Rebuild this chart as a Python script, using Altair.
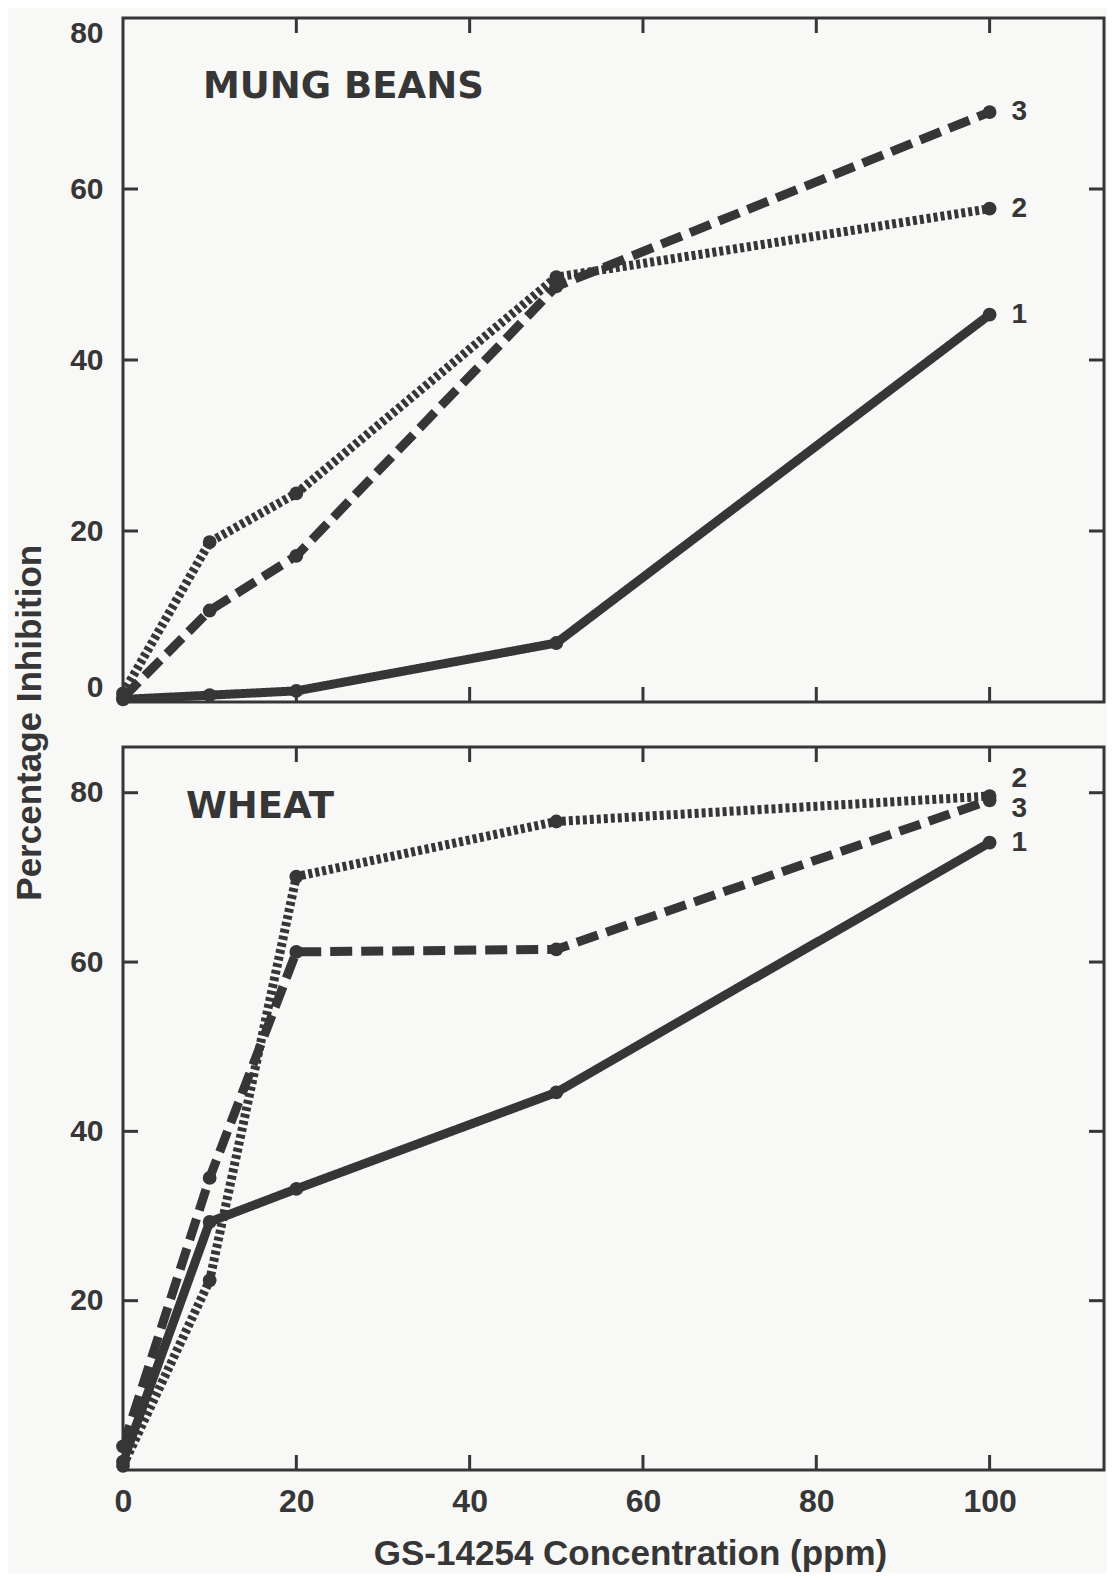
import altair as alt
import pandas as pd

# ---------------- data ----------------
ppm = [0, 10, 20, 50, 100]
series_names = ["1", "2", "3"]

mung_1 = [0.3, 0.8, 1.3, 6.9, 45.3]
mung_2 = [1.0, 18.7, 24.4, 49.7, 57.7]
mung_3 = [0.5, 10.7, 17.1, 48.6, 69.0]

wheat_1 = [1.0, 29.3, 33.2, 44.6, 74.1]
wheat_2 = [0.5, 22.4, 70.1, 76.6, 79.6]
wheat_3 = [2.8, 34.5, 61.2, 61.5, 79.1]

panel_titles = ["MUNG BEANS", "WHEAT"]
x_tick_labels = [0, 20, 40, 60, 80, 100]
x_inner_ticks = [20, 40, 60, 80, 100]
mung_y_ticks = [0, 20, 40, 60, 80]
mung_inner_y_ticks = [20, 40, 60]
wheat_y_ticks = [20, 40, 60, 80]

x_title = "GS-14254 Concentration (ppm)"
y_title = "Percentage Inhibition"

# ---------------- styling ----------------
INK = "#363636"
BG = "#f8f8f6"
W = 981
H_TOP = 684
H_BOT = 723
TL = 15  # inward tick length
NUM_FONT = "Liberation Sans, Arial, sans-serif"
TITLE_FONT = "DejaVu Sans, sans-serif"

x_scale = alt.Scale(domain=[0, 113.2], nice=False, zero=False)


def long_df(values_by_series):
    rows = []
    for name, vals in zip(series_names, values_by_series):
        for xv, yv in zip(ppm, vals):
            rows.append({"ppm": xv, "value": yv, "series": name})
    return pd.DataFrame(rows)


def panel(values_by_series, y_domain, inner_y_ticks, H, title_text,
          title_pos, label_dy, x_axis, y_axis):
    df = long_df(values_by_series)
    y_scale = alt.Scale(domain=y_domain, nice=False, zero=False)
    base = alt.Chart(df)
    lines = base.mark_line(strokeWidth=9, color=INK, strokeCap="butt",
                           strokeJoin="round", clip=True).encode(
        x=alt.X("ppm:Q", scale=x_scale, axis=x_axis),
        y=alt.Y("value:Q", scale=y_scale, axis=y_axis),
        strokeDash=alt.StrokeDash(
            "series:N",
            scale=alt.Scale(domain=series_names,
                            range=[[1, 0], [4, 3], [22, 9]]),
            legend=None),
        detail="series:N",
    )
    points = base.mark_circle(size=190, color=INK, opacity=1).encode(
        x=alt.X("ppm:Q", scale=x_scale),
        y=alt.Y("value:Q", scale=y_scale),
    )
    layers = [lines, points]
    for name in series_names:
        lab = base.transform_filter(
            (alt.datum.series == name) & (alt.datum.ppm == max(ppm))
        ).mark_text(align="left", baseline="middle", dx=22,
                    dy=label_dy.get(name, 0), font=NUM_FONT,
                    fontWeight="bold", fontSize=28, color=INK).encode(
            x=alt.X("ppm:Q", scale=x_scale),
            y=alt.Y("value:Q", scale=y_scale),
            text="series:N",
        )
        layers.append(lab)

    xt = alt.Chart(pd.DataFrame({"t": x_inner_ticks}))
    yt = alt.Chart(pd.DataFrame({"t": inner_y_ticks}))
    rule_kw = dict(color=INK, strokeWidth=3)
    layers += [
        xt.mark_rule(**rule_kw).encode(
            x=alt.X("t:Q", scale=x_scale),
            y=alt.value(0), y2=alt.value(TL)),
        xt.mark_rule(**rule_kw).encode(
            x=alt.X("t:Q", scale=x_scale),
            y=alt.value(H), y2=alt.value(H - TL)),
        yt.mark_rule(**rule_kw).encode(
            y=alt.Y("t:Q", scale=y_scale),
            x=alt.value(0), x2=alt.value(TL)),
        yt.mark_rule(**rule_kw).encode(
            y=alt.Y("t:Q", scale=y_scale),
            x=alt.value(W), x2=alt.value(W - TL)),
    ]
    ttl = alt.Chart(pd.DataFrame({"t": [title_text]})).mark_text(
        align="left", baseline="middle", font=TITLE_FONT, fontWeight="bold",
        fontSize=37, color=INK).encode(
        text="t:N", x=alt.value(title_pos[0]), y=alt.value(title_pos[1]))
    layers.append(ttl)
    return alt.layer(*layers).properties(width=W, height=H)


top_y_axis = alt.Axis(values=mung_y_ticks, title=None, labelFlush=True)
top = panel([mung_1, mung_2, mung_3], [0, 80], mung_inner_y_ticks, H_TOP,
            panel_titles[0], (80, 69), {}, None, top_y_axis)

bot_x_axis = alt.Axis(values=x_tick_labels, title=x_title, titleX=507,
                      titleY=83, titleBaseline="middle", titleAlign="center",
                      labelPadding=16, labelFontSize=32, labelFlush=False)
bot_y_axis = alt.Axis(values=wheat_y_ticks, title=None)
bottom = panel([wheat_1, wheat_2, wheat_3], [0, 85.4], wheat_y_ticks, H_BOT,
               panel_titles[1], (63, 60), {"2": -17, "3": 9, "1": 0},
               bot_x_axis, bot_y_axis)

chart = alt.vconcat(top, bottom, spacing=36).properties(
    background=BG,
    padding={"left": 5, "top": 7, "right": 0, "bottom": 0},
    title=alt.TitleParams(
        text=y_title, orient="left", anchor="middle", font=NUM_FONT,
        fontWeight="bold", fontSize=35, color=INK, offset=20, dx=71),
).configure_view(
    stroke=INK, strokeWidth=3
).configure_axis(
    grid=False, ticks=False, domain=False,
    labelFont=NUM_FONT, labelFontWeight="bold", labelFontSize=30,
    labelColor=INK, labelPadding=20,
    titleFont=NUM_FONT, titleFontWeight="bold", titleFontSize=35,
    titleColor=INK,
)

chart.save("out.html", embed_options={"renderer": "svg", "actions": False})
